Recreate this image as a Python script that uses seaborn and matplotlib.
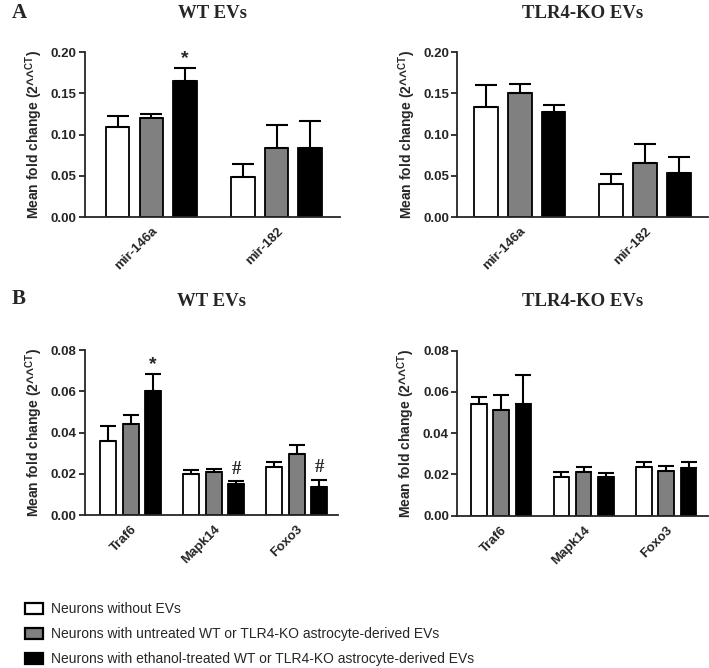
import matplotlib
matplotlib.use('Agg')
import matplotlib.pyplot as plt
from matplotlib.container import BarContainer
import seaborn as sns
import pandas as pd
import numpy as np

# Legend groups (hue levels)
groups = ['Neurons without EVs',
          'Neurons with untreated WT or TLR4-KO astrocyte-derived EVs',
          'Neurons with ethanol-treated WT or TLR4-KO astrocyte-derived EVs']
colors = ['white', '#808080', 'black']

# Panel A: miRNAs (rows = groups, columns = genes)
mir_genes = ['mir-146a', 'mir-182']
wt_mir_mean = [[0.109, 0.049], [0.120, 0.084], [0.165, 0.084]]
wt_mir_sem = [[0.014, 0.015], [0.005, 0.028], [0.016, 0.032]]
ko_mir_mean = [[0.134, 0.040], [0.150, 0.066], [0.128, 0.053]]
ko_mir_sem = [[0.026, 0.012], [0.011, 0.023], [0.008, 0.020]]

# Panel B: mRNAs
mrna_genes = ['Traf6', 'Mapk14', 'Foxo3']
wt_mrna_mean = [[0.0359, 0.0198, 0.0232], [0.0441, 0.0208, 0.0295], [0.0602, 0.0151, 0.0135]]
wt_mrna_sem = [[0.0072, 0.0021, 0.0027], [0.0045, 0.0016, 0.0046], [0.0084, 0.0012, 0.0036]]
ko_mrna_mean = [[0.0543, 0.0190, 0.0234], [0.0511, 0.0210, 0.0215], [0.0543, 0.0187, 0.0229]]
ko_mrna_sem = [[0.0034, 0.0020, 0.0028], [0.0076, 0.0024, 0.0027], [0.0140, 0.0018, 0.0033]]

# significance marks: (symbol, group index, gene index)
wt_mir_marks = [('*', 2, 0)]
wt_mrna_marks = [('*', 2, 0), ('#', 2, 1), ('#', 2, 2)]

sns.set_style('ticks')
plt.rcParams['font.family'] = ['Liberation Sans', 'DejaVu Sans']
plt.rcParams['mathtext.fontset'] = 'custom'
plt.rcParams['mathtext.bf'] = 'Liberation Sans:bold'
plt.rcParams['mathtext.rm'] = 'Liberation Sans:bold'

fig = plt.figure(figsize=(7.09, 6.68), dpi=100)


def make_df(genes, means):
    rows = []
    for g, vals in zip(groups, means):
        for gene, v in zip(genes, vals):
            rows.append({'gene': gene, 'group': g, 'value': v})
    return pd.DataFrame(rows)


def draw_panel(rect, genes, means, sems, ymax, step, title, title_gap, marks, capsize, xlim):
    ax = fig.add_axes(rect)
    df = make_df(genes, means)
    sns.barplot(data=df, x='gene', y='value', hue='group', hue_order=groups,
                palette=colors, edgecolor='black', linewidth=1.3,
                width=0.81, gap=0.3, errorbar=None, ax=ax, legend=True)
    bars = [c for c in ax.containers if isinstance(c, BarContainer)]
    for gi, cont in enumerate(bars):
        xs = [b.get_x() + b.get_width() / 2 for b in cont]
        ys = [b.get_height() for b in cont]
        errs = sems[gi]
        ax.errorbar(xs, ys, yerr=[np.zeros(len(errs)), errs], fmt='none',
                    ecolor='black', elinewidth=1.5, capsize=capsize, capthick=1.5,
                    zorder=1)
    for sym, gi, ci in marks:
        b = bars[gi][ci]
        top = means[gi][ci] + sems[gi][ci]
        if sym == '*':
            ax.annotate(sym, (b.get_x() + b.get_width() / 2, top), xytext=(0, 6.5),
                        textcoords='offset points', ha='center', va='center',
                        fontsize=14, fontweight='bold')
        else:
            ax.annotate(sym, (b.get_x() + b.get_width() / 2, top), xytext=(0, 8.5),
                        textcoords='offset points', ha='center', va='center',
                        fontsize=13.5, fontweight='bold', family='Liberation Serif')
    ax.set_ylim(0, ymax)
    ax.set_xlim(*xlim)
    ax.set_yticks(np.arange(0, ymax + step / 2, step))
    ax.yaxis.set_major_formatter(matplotlib.ticker.FormatStrFormatter('%.2f'))
    ax.set_xlabel('')
    ax.set_ylabel(r'Mean fold change (2^^$^{\mathbf{CT}}$)', fontsize=10,
                  fontweight='bold', labelpad=4)
    sns.despine(ax=ax)
    for s in ['left', 'bottom']:
        ax.spines[s].set_linewidth(1.3)
    ax.tick_params(axis='y', length=4, width=1.3, labelsize=9.5, pad=2)
    ax.tick_params(axis='x', length=0, labelsize=9.5, pad=6)
    for lab in ax.get_yticklabels():
        lab.set_fontweight('bold')
    for lab in ax.get_xticklabels():
        lab.set_fontweight('bold')
        lab.set_rotation(45)
        lab.set_ha('right')
        lab.set_rotation_mode('anchor')
    pos = ax.get_position()
    fig.text(pos.x0 + pos.width / 2, pos.y1 + title_gap, title, ha='center', va='center',
             fontsize=13.5, fontweight='bold', family='Liberation Serif')
    handles, labels = ax.get_legend_handles_labels()
    ax.get_legend().remove()
    return ax, handles, labels


ax1, handles, labels = draw_panel([0.120, 0.675, 0.360, 0.247], mir_genes, wt_mir_mean,
                                  wt_mir_sem, 0.2, 0.05, 'WT EVs', 0.058, wt_mir_marks, 8,
                                  (-0.53, 1.51))
draw_panel([0.645, 0.675, 0.353, 0.247], mir_genes, ko_mir_mean, ko_mir_sem,
           0.2, 0.05, 'TLR4-KO EVs', 0.058, [], 8, (-0.5, 1.5))
draw_panel([0.120, 0.229, 0.357, 0.247], mrna_genes, wt_mrna_mean, wt_mrna_sem,
           0.08, 0.02, 'WT EVs', 0.073, wt_mrna_marks, 6, (-0.55, 2.5))
draw_panel([0.645, 0.228, 0.353, 0.247], mrna_genes, ko_mrna_mean, ko_mrna_sem,
           0.08, 0.02, 'TLR4-KO EVs', 0.073, [], 6, (-0.53, 2.5))

fig.text(0.017, 0.980, 'A', ha='left', va='center', fontsize=15, fontweight='bold',
         family='Liberation Serif')
fig.text(0.017, 0.553, 'B', ha='left', va='center', fontsize=15, fontweight='bold',
         family='Liberation Serif')

leg = fig.legend(handles, labels, loc='upper left', bbox_to_anchor=(0.035, 0.099),
                 frameon=False, handlelength=1.3, handleheight=0.85,
                 handletextpad=0.6, labelspacing=0.8, borderaxespad=0, borderpad=0,
                 prop={'family': 'Liberation Sans', 'size': 10})
for h in leg.legend_handles:
    h.set_linewidth(1.6)

fig.savefig('out.png', dpi=100)
